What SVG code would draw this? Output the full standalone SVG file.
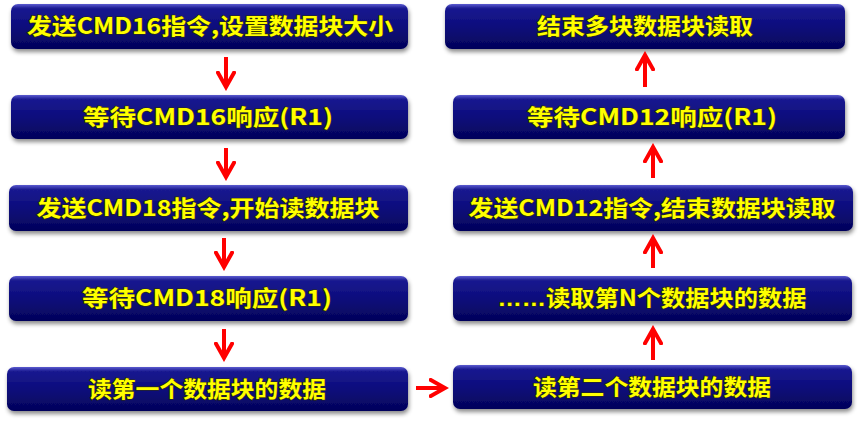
<svg xmlns="http://www.w3.org/2000/svg" width="859" height="429" viewBox="0 0 859 429">
<defs>
<linearGradient id="bg" x1="0" y1="0" x2="0" y2="1">
<stop offset="0" stop-color="#5a5ad0"/>
<stop offset="0.1" stop-color="#1a1a90"/>
<stop offset="0.5" stop-color="#0c0c7c"/>
<stop offset="1" stop-color="#04045a"/>
</linearGradient>
<filter id="sh" x="-5%" y="-20%" width="110%" height="150%">
<feDropShadow dx="1" dy="3" stdDeviation="2" flood-color="#000" flood-opacity="0.45"/>
</filter>
<marker id="ah" markerUnits="userSpaceOnUse" markerWidth="20" markerHeight="20" refX="16" refY="10" orient="auto">
<path d="M0,1 L16,10 L0,19" fill="none" stroke="#ff0000" stroke-width="4" stroke-linejoin="miter"/>
</marker>
</defs>
<style>
.box{fill:url(#bg);filter:url(#sh);}
.t{font-family:"Noto Sans CJK SC","Liberation Sans",sans-serif;font-weight:700;font-size:22px;fill:#ffff00;stroke:#303000;stroke-width:1.2;paint-order:stroke;text-anchor:middle;}
.lat{font-family:"Liberation Sans",sans-serif;}
.c{stroke:#ff0000;stroke-width:4;fill:none;marker-end:url(#ah);}
</style>
<rect width="859" height="429" fill="#ffffff"/>
<g id="n1"><rect class="box" x="11" y="4" width="397" height="45" rx="7"/><text class="t" x="210" y="34" textLength="366" lengthAdjust="spacingAndGlyphs">发送CMD16指令,设置数据块大小</text></g>
<g id="n2"><rect class="box" x="11" y="95" width="397" height="44" rx="7"/><text class="t" x="208" y="125" textLength="250" lengthAdjust="spacingAndGlyphs">等待CMD16响应(R1)</text></g>
<g id="n3"><rect class="box" x="9" y="185" width="399" height="46" rx="7"/><text class="t" x="208" y="216" textLength="343" lengthAdjust="spacingAndGlyphs">发送CMD18指令,开始读数据块</text></g>
<g id="n4"><rect class="box" x="9" y="276" width="399" height="45" rx="7"/><text class="t" x="207" y="306" textLength="250" lengthAdjust="spacingAndGlyphs">等待CMD18响应(R1)</text></g>
<g id="n5"><rect class="box" x="7" y="367" width="401" height="44" rx="7"/><text class="t" x="207" y="397" textLength="238" lengthAdjust="spacingAndGlyphs">读第一个数据块的数据</text></g>
<g id="n6"><rect class="box" x="453" y="365" width="399" height="44" rx="7"/><text class="t" x="652" y="395" textLength="238" lengthAdjust="spacingAndGlyphs">读第二个数据块的数据</text></g>
<g id="n7"><rect class="box" x="453" y="276" width="399" height="45" rx="7"/><text class="t" x="652" y="306" textLength="309" lengthAdjust="spacingAndGlyphs"><tspan class="lat">……</tspan>读取第N个数据块的数据</text></g>
<g id="n8"><rect class="box" x="453" y="185" width="400" height="46" rx="7"/><text class="t" x="652" y="216" textLength="367" lengthAdjust="spacingAndGlyphs">发送CMD12指令,结束数据块读取</text></g>
<g id="n9"><rect class="box" x="453" y="95" width="392" height="44" rx="7"/><text class="t" x="652" y="125" textLength="250" lengthAdjust="spacingAndGlyphs">等待CMD12响应(R1)</text></g>
<g id="n10"><rect class="box" x="445" y="4" width="400" height="45" rx="7"/><text class="t" x="645" y="34" textLength="216" lengthAdjust="spacingAndGlyphs">结束多块数据块读取</text></g>
<g id="connectors">
<line class="c" x1="226" y1="57" x2="226" y2="87"/>
<line class="c" x1="226" y1="148" x2="226" y2="177"/>
<line class="c" x1="224" y1="238" x2="224" y2="267"/>
<line class="c" x1="224" y1="329" x2="224" y2="358"/>
<line class="c" x1="416" y1="388" x2="445" y2="388"/>
<line class="c" x1="653" y1="360" x2="653" y2="329"/>
<line class="c" x1="653" y1="268" x2="653" y2="238"/>
<line class="c" x1="653" y1="178" x2="653" y2="147"/>
<line class="c" x1="645" y1="87" x2="645" y2="55"/>
</g>
</svg>
